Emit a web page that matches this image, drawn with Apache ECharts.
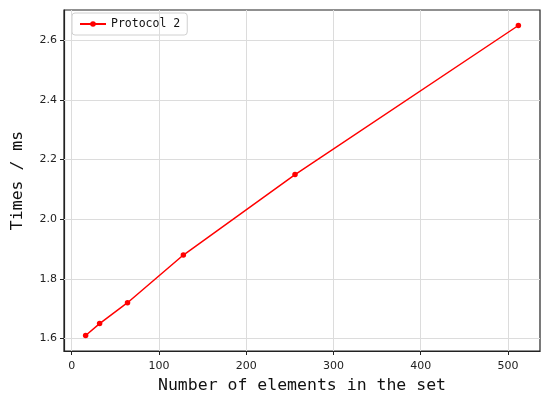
<!DOCTYPE html>
<html>
<head>
<meta charset="utf-8">
<script src="https://cdn.jsdelivr.net/npm/echarts@6/dist/echarts.min.js"></script>
<style>
  html, body { margin: 0; padding: 0; background: #fff; }
  #chart { width: 550px; height: 401px; }
</style>
</head>
<body>
<div id="chart"></div>
<script>
    // data
    var setSizes = [16, 32, 64, 128, 256, 512];
    var protocol2Times = [1.61, 1.65, 1.72, 1.88, 2.15, 2.65];
    var xTicks = [0, 100, 200, 300, 400, 500];
    var yTicks = [1.6, 1.8, 2.0, 2.2, 2.4, 2.6];

    var chart = echarts.init(document.getElementById('chart'));

    var points = [];
    for (var i = 0; i < setSizes.length; i++) {
        points.push([setSizes[i], protocol2Times[i]]);
    }

    var tickFont = 'DejaVu Sans, Noto Sans CJK SC, sans-serif';
    var monoFont = 'DejaVu Sans Mono, Liberation Mono, monospace';

    var option = {
        backgroundColor: '#fff',
        animation: false,
        grid: {
            left: 64,
            right: 10,
            top: 10,
            bottom: 50,
            outerBoundsMode: 'none',
            containLabel: false,
            show: true,
            borderColor: '#222',
            borderWidth: 1.2
        },
        legend: {
            left: 72,
            top: 13,
            orient: 'vertical',
            padding: [5, 7, 5, 7],
            borderColor: '#d0d0d0',
            borderWidth: 1,
            borderRadius: 3,
            itemWidth: 26,
            itemHeight: 7,
            textStyle: { fontFamily: monoFont, fontSize: 11.5, color: '#111' },
            data: ['Protocol 2']
        },
        xAxis: {
            type: 'value',
            min: -8.8,
            max: 536.8,
            name: 'Number of elements in the set',
            nameLocation: 'middle',
            nameGap: 24,
            nameTextStyle: { fontFamily: monoFont, fontSize: 16.5, color: '#111' },
            axisLine: { show: true, onZero: false, lineStyle: { color: '#222', width: 1.2 } },
            axisTick: { show: true, length: 4, customValues: xTicks, lineStyle: { color: '#222' } },
            axisLabel: { customValues: xTicks, fontFamily: tickFont, fontSize: 11, color: '#222', margin: 10 },
            splitLine: { show: false }
        },
        yAxis: {
            type: 'value',
            min: 1.558,
            max: 2.702,
            name: 'Times / ms',
            nameLocation: 'middle',
            nameGap: 38,
            nameTextStyle: { fontFamily: monoFont, fontSize: 16.5, color: '#111' },
            axisLine: { show: true, onZero: false, lineStyle: { color: '#222', width: 1.2 } },
            axisTick: { show: true, length: 4, customValues: yTicks, lineStyle: { color: '#222' } },
            axisLabel: {
                customValues: yTicks, fontFamily: tickFont, fontSize: 11, color: '#222', margin: 7,
                formatter: function (v) { return v.toFixed(1); }
            },
            splitLine: { show: false }
        },
        series: [
            {
                name: 'Protocol 2',
                type: 'line',
                data: points,
                symbol: 'circle',
                symbolSize: 5.5,
                lineStyle: { color: '#ff0000', width: 1.5 },
                itemStyle: { color: '#ff0000' },
                z: 5
            },
            {
                // grid lines at the tick values
                name: 'grid',
                type: 'line',
                data: [],
                silent: true,
                markLine: {
                    silent: true,
                    symbol: 'none',
                    label: { show: false },
                    lineStyle: { color: '#dcdcdc', width: 1, type: 'solid' },
                    data: xTicks.map(function (v) { return { xAxis: v }; })
                        .concat(yTicks.map(function (v) { return { yAxis: v }; }))
                },
                z: 1
            }
        ]
    };

    chart.setOption(option);
</script>
</body>
</html>
